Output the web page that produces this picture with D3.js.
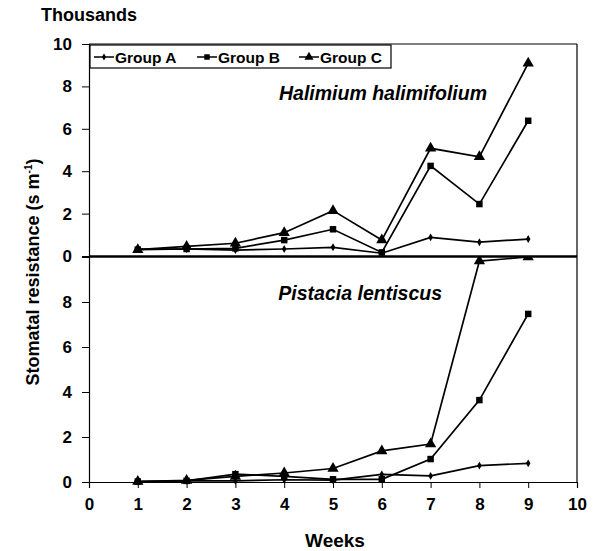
<!DOCTYPE html>
<html>
<head>
<meta charset="utf-8">
<script src="https://cdn.jsdelivr.net/npm/d3@7"></script>
<style>
  body { margin: 0; background: #fff; }
  text { font-family: "Liberation Sans", Arial, sans-serif; font-weight: bold; fill: #000; }
</style>
</head>
<body>
<script>
// weeks and series (thousands of s m-1)
var weeks = [1, 2, 3, 4, 5, 6, 7, 8, 9];
var halA = [0.32, 0.33, 0.28, 0.33, 0.41, 0.13, 0.88, 0.65, 0.80];
var halB = [0.30, 0.33, 0.36, 0.75, 1.26, 0.17, 4.25, 2.45, 6.38];
var halC = [0.30, 0.45, 0.60, 1.10, 2.14, 0.75, 5.08, 4.68, 9.09];
var pisA = [0.02, 0.05, 0.05, 0.10, 0.08, 0.34, 0.27, 0.73, 0.83];
var pisB = [0.02, 0.05, 0.35, 0.25, 0.12, 0.12, 1.02, 3.64, 7.47];
var pisC = [0.02, 0.07, 0.25, 0.40, 0.60, 1.38, 1.69, 9.82, 10.0];
var groups = ["Group A", "Group B", "Group C"];
var xTicks = [0, 1, 2, 3, 4, 5, 6, 7, 8, 9, 10];
var yTicks = [0, 2, 4, 6, 8, 10];

var width = 596, height = 551;

var svg = d3.select("body").append("svg")
  .attr("width", width)
  .attr("height", height);

// scales
var x = d3.scaleLinear().domain([0, 10]).range([89, 577]);
var yTop = d3.scaleLinear().domain([0, 10]).range([256, 44]);
var yBot = d3.scaleLinear().domain([0, 10]).range([482, 257]);

// clip for lower panel
svg.append("clipPath").attr("id", "clipBot")
  .append("rect").attr("x", 80).attr("y", 257).attr("width", 510).attr("height", 240);

// frame of top panel
svg.append("line").attr("x1", x(0)).attr("x2", x(10)).attr("y1", yTop(10)).attr("y2", yTop(10))
  .attr("stroke", "#000").attr("stroke-width", 1);
svg.append("line").attr("x1", x(10)).attr("x2", x(10)).attr("y1", yTop(10)).attr("y2", yBot(0))
  .attr("stroke", "#000").attr("stroke-width", 1.2);

// y axes
var axTop = svg.append("g").attr("transform", "translate(" + x(0) + ",0)")
  .call(d3.axisLeft(yTop).tickValues(yTicks).tickSize(7).tickPadding(10).tickFormat(d3.format("d")));
var axBot = svg.append("g").attr("transform", "translate(" + x(0) + ",0)")
  .call(d3.axisLeft(yBot).tickValues(yTicks.slice(0, 5)).tickSize(7).tickPadding(10).tickFormat(d3.format("d")));
[axTop, axBot].forEach(function(a) {
  a.select(".domain").attr("stroke-width", 1.2);
  a.selectAll("text").style("font-size", "17px").style("font-family", "Liberation Sans, Arial, sans-serif").style("font-weight", "bold");
});

// x axis
var axX = svg.append("g").attr("transform", "translate(0," + yBot(0) + ")")
  .call(d3.axisBottom(x).tickValues(xTicks).tickSize(6).tickPadding(10).tickFormat(d3.format("d")));
axX.select(".domain").attr("stroke-width", 1.2);
axX.selectAll("text").style("font-size", "17px").style("font-family", "Liberation Sans, Arial, sans-serif").style("font-weight", "bold");

// separator between panels
svg.append("line").attr("x1", x(0)).attr("x2", x(10)).attr("y1", 256.5).attr("y2", 256.5)
  .attr("stroke", "#000").attr("stroke-width", 2.5);

// draw series
function drawSeries(vals, yScale, shape, g) {
  var pts = weeks.map(function(w, i) { return [w, vals[i]]; });
  var line = d3.line().x(function(d) { return x(d[0]); }).y(function(d) { return yScale(d[1]); });
  g.append("path").datum(pts).attr("d", line)
    .attr("fill", "none").attr("stroke", "#000").attr("stroke-width", 1.7);
  var sym = shape === "A" ? d3.symbol().type(d3.symbolDiamond).size(18)
          : shape === "B" ? d3.symbol().type(d3.symbolSquare).size(42)
          : d3.symbol().type(d3.symbolTriangle).size(55);
  g.selectAll(null).data(pts).enter().append("path")
    .attr("d", sym)
    .attr("transform", function(d) { return "translate(" + x(d[0]) + "," + yScale(d[1]) + ")"; })
    .attr("fill", "#000");
}

var gTop = svg.append("g");
drawSeries(halA, yTop, "A", gTop);
drawSeries(halB, yTop, "B", gTop);
drawSeries(halC, yTop, "C", gTop);

var gBot = svg.append("g").attr("clip-path", "url(#clipBot)");
drawSeries(pisA, yBot, "A", gBot);
drawSeries(pisB, yBot, "B", gBot);
drawSeries(pisC, yBot, "C", gBot);

// legend
var legend = svg.append("g");
legend.append("rect").attr("x", 90).attr("y", 45).attr("width", 301).attr("height", 23)
  .attr("fill", "#fff").attr("stroke", "#000").attr("stroke-width", 1.2);
var legX = [94, 197, 299];
var legSym = [d3.symbol().type(d3.symbolDiamond).size(14),
              d3.symbol().type(d3.symbolSquare).size(30),
              d3.symbol().type(d3.symbolTriangle).size(36)];
groups.forEach(function(gname, i) {
  legend.append("line").attr("x1", legX[i]).attr("x2", legX[i] + 20).attr("y1", 57).attr("y2", 57)
    .attr("stroke", "#000").attr("stroke-width", 1.5);
  legend.append("path").attr("d", legSym[i])
    .attr("transform", "translate(" + (legX[i] + 10) + ",57)").attr("fill", "#000");
  legend.append("text").attr("x", legX[i] + 21).attr("y", 62.5)
    .style("font-size", "15.5px").text(gname);
});

// species labels
svg.append("text").attr("x", 487).attr("y", 100).attr("text-anchor", "end")
  .style("font-size", "19.5px").style("font-style", "italic").text("Halimium halimifolium");
svg.append("text").attr("x", 442).attr("y", 300).attr("text-anchor", "end")
  .style("font-size", "19.5px").style("font-style", "italic").text("Pistacia lentiscus");

// unit label
svg.append("text").attr("x", 41).attr("y", 21).style("font-size", "18px").text("Thousands");

// axis titles
var yt = svg.append("text").attr("transform", "translate(39,272) rotate(-90)")
  .attr("text-anchor", "middle").style("font-size", "18px");
yt.append("tspan").text("Stomatal resistance (s m");
yt.append("tspan").attr("dy", -7).style("font-size", "10px").text("-1");
yt.append("tspan").attr("dy", 7).text(")");

svg.append("text").attr("x", 335).attr("y", 547).attr("text-anchor", "middle")
  .style("font-size", "19px").text("Weeks");
</script>
</body>
</html>
